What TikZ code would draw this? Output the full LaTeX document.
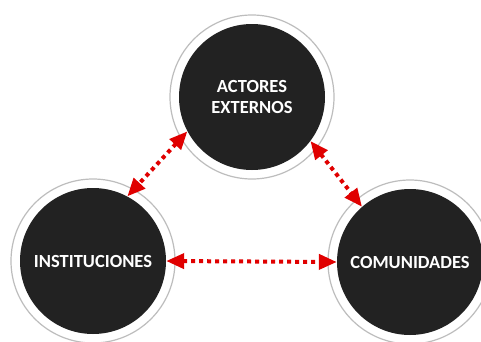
\documentclass[tikz,border=0pt]{standalone}
\usepackage{fontspec}
\setmainfont{Carlito}
\usetikzlibrary{arrows.meta}
\definecolor{disc}{HTML}{222222}
\definecolor{ringgray}{HTML}{BDBDBD}
\definecolor{arrowred}{RGB}{224,0,0}
\tikzset{
  disc/.style={circle, fill=disc, minimum size=146pt, inner sep=0pt,
    text=white, font=\fontsize{18.5}{21}\selectfont\bfseries, align=center},
  ring/.style={draw=ringgray, line width=1.2pt},
  link/.style={draw=arrowred, line width=4pt, dash pattern=on 4pt off 4pt,
    {Triangle[length=18pt,width=15pt]}-{Triangle[length=18pt,width=15pt]}}
}
\begin{document}
\begin{tikzpicture}[x=1pt,y=1pt]
\path[use as bounding box, clip] (0,0) rectangle (481,341);
\fill[white] (0,0) rectangle (481,341);
\node[disc] (top) at (252,244) {ACTORES\\EXTERNOS};
\node[disc] (left) at (93,80) {INSTITUCIONES};
\node[disc] (right) at (410,79) {COMUNIDADES};
\draw[ring] (top.center) circle (82pt);
\draw[ring] (left.center) circle (82pt);
\draw[ring] (right.center) circle (82pt);
\draw[link] (top.208) -- (left.62);
\draw[link] (top.-37) -- (right.131);
\draw[link] (left.east) -- (right.west);
\end{tikzpicture}
\end{document}
